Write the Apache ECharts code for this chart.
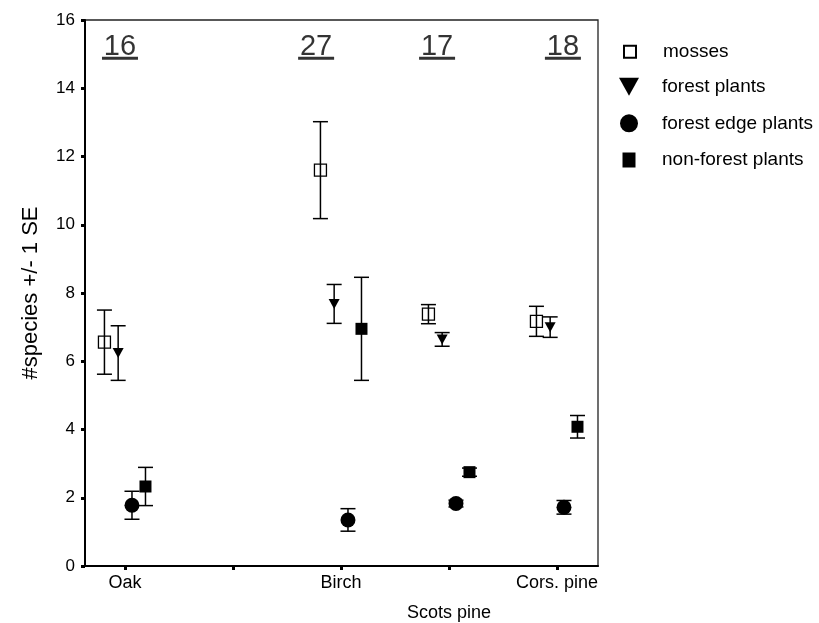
<!DOCTYPE html>
<html>
<head>
<meta charset="utf-8">
<title>Species per stand type</title>
<script src="https://cdn.jsdelivr.net/npm/echarts@6/dist/echarts.min.js"></script>
<style>
  html, body { margin: 0; padding: 0; background: #fff; }
  #main { width: 819px; height: 623px; }
</style>
</head>
<body>
<div id="main"></div>
<script>
// stand types on the x axis (2nd slot is an unlabelled tick)
var sites = ['Oak', '', 'Birch', 'Scots pine', 'Cors. pine'];
// number of plots per stand type (underlined numbers at the top)
var counts = [16, null, 27, 17, 18];

// mean #species and 1 SE for each group
var mossMean = [6.56, null, 11.60, 7.38, 7.17];
var mossSE = [0.94, null, 1.42, 0.28, 0.44];
var forestMean = [6.24, null, 7.68, 6.64, 7.00];
var forestSE = [0.80, null, 0.57, 0.20, 0.30];
var edgeMean = [1.78, null, 1.35, 1.83, 1.72];
var edgeSE = [0.41, null, 0.33, 0.10, 0.20];
var nonForestMean = [2.33, null, 6.95, 2.75, 4.08];
var nonForestSE = [0.56, null, 1.51, 0.12, 0.33];

var FONT = 'Liberation Sans, Arial, sans-serif';
var triDown = 'path://M0,0L10,0L5,9Z';

var groups = [
  { name: 'mosses', mean: mossMean, se: mossSE, dx: -0.19, symbol: 'rect', size: 12,
    style: { color: '#fff', borderColor: '#000', borderWidth: 1.3, opacity: 1 }, legendSize: [12, 12] },
  { name: 'forest plants', mean: forestMean, se: forestSE, dx: -0.063, symbol: triDown, size: [11, 10],
    style: { color: '#000', opacity: 1 }, legendSize: [20, 18] },
  { name: 'forest edge plants', mean: edgeMean, se: edgeSE, dx: 0.065, symbol: 'circle', size: 15,
    style: { color: '#000', opacity: 1 }, legendSize: [18, 18] },
  { name: 'non-forest plants', mean: nonForestMean, se: nonForestSE, dx: 0.19, symbol: 'rect', size: 12,
    style: { color: '#000', opacity: 1 }, legendSize: [13, 15] }
];
// where the count labels sit relative to each tick
var countDx = [-0.046, 0, -0.23, -0.11, 0.055];

function errorBars(params, api) {
  var x = api.value(0);
  var top = api.coord([x, api.value(2)]);
  var bot = api.coord([x, api.value(1)]);
  var hw = 7.5;
  var st = { stroke: '#000', lineWidth: 1.5 };
  return {
    type: 'group',
    children: [
      { type: 'line', shape: { x1: top[0], y1: top[1], x2: bot[0], y2: bot[1] }, style: st },
      { type: 'line', shape: { x1: top[0] - hw, y1: top[1], x2: top[0] + hw, y2: top[1] }, style: st },
      { type: 'line', shape: { x1: bot[0] - hw, y1: bot[1], x2: bot[0] + hw, y2: bot[1] }, style: st }
    ]
  };
}

var series = [];
groups.forEach(function (g) {
  var pts = [], bars = [];
  g.mean.forEach(function (m, i) {
    if (m == null) return;
    pts.push([i + g.dx, m]);
    bars.push([i + g.dx, m - g.se[i], m + g.se[i]]);
  });
  series.push({
    name: g.name + ' SE',
    type: 'custom',
    renderItem: errorBars,
    encode: { x: 0, y: [1, 2] },
    data: bars,
    silent: true,
    z: 3
  });
  series.push({
    name: g.name,
    type: 'scatter',
    symbol: g.symbol,
    symbolSize: g.size,
    itemStyle: g.style,
    data: pts,
    z: g.name === 'mosses' ? 2 : 4
  });
});

var countData = [];
counts.forEach(function (c, i) {
  if (c != null) countData.push([i + countDx[i], 15.17, c]);
});
series.push({
  name: 'n',
  type: 'scatter',
  symbolSize: 0,
  silent: true,
  data: countData,
  label: {
    show: true,
    position: 'inside',
    formatter: function (p) { return '{n|' + p.value[2] + '}\n{u|}'; },
    rich: {
      n: { fontFamily: FONT, fontSize: 29, lineHeight: 20, color: '#000' },
      u: { width: 36, height: 3, backgroundColor: '#000' }
    }
  }
});

var legendCY = [51.7, 86.7, 123.3, 160];
var legends = groups.map(function (g, k) {
  var w = g.legendSize[0], h = g.legendSize[1];
  var left = 629 - w / 2;
  return {
    data: [g.name],
    orient: 'vertical',
    left: left,
    top: legendCY[k] - 10,
    padding: 0,
    itemWidth: w,
    itemHeight: h,
    selectedMode: false,
    textStyle: {
      fontFamily: FONT, fontSize: 19, lineHeight: 20, color: '#000',
      padding: [0, 0, 0, 662 - (left + w + 5)]
    }
  };
});

var myChart = echarts.init(document.getElementById('main'));
myChart.setOption({
  animation: false,
  backgroundColor: '#fff',
  legend: legends,
  grid: {
    left: 85, right: 221, top: 20, bottom: 57,
    show: true, borderColor: '#222', borderWidth: 1.3, backgroundColor: 'transparent'
  },
  xAxis: {
    type: 'value',
    min: -0.37,
    max: 4.38,
    axisLine: { onZero: false, lineStyle: { color: '#000', width: 2 } },
    axisTick: { customValues: [0, 1, 2, 3, 4], length: 4, lineStyle: { color: '#000', width: 3 } },
    axisLabel: {
      customValues: [0, 1, 2, 3, 4],
      fontFamily: FONT, fontSize: 18, lineHeight: 15, color: '#000', margin: 10,
      formatter: function (v) {
        var i = Math.round(v);
        return (i % 2 ? '\n\n' : '') + sites[i];
      }
    },
    splitLine: { show: false }
  },
  yAxis: {
    type: 'value',
    min: 0,
    max: 16,
    interval: 2,
    name: '#species +/- 1 SE',
    nameLocation: 'middle',
    nameGap: 43,
    nameTextStyle: { fontFamily: FONT, fontSize: 22, color: '#000' },
    axisLine: { show: true, onZero: false, lineStyle: { color: '#000', width: 2 } },
    axisTick: { show: true, length: 4, lineStyle: { color: '#000', width: 3 } },
    axisLabel: { fontFamily: FONT, fontSize: 17, color: '#000', margin: 10 },
    splitLine: { show: false }
  },
  series: series
});
window.addEventListener('resize', function () { myChart.resize(); });
</script>
</body>
</html>
